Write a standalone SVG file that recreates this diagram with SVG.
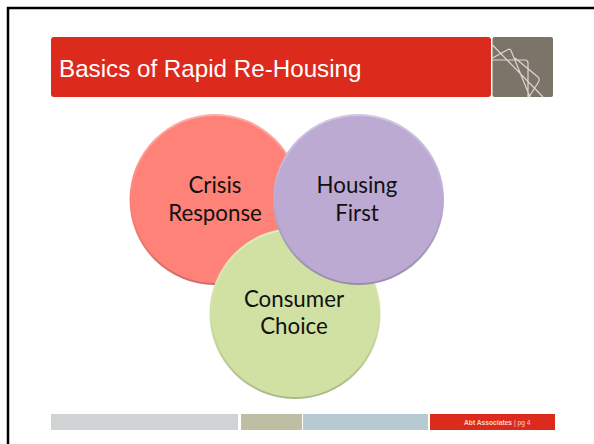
<svg xmlns="http://www.w3.org/2000/svg" width="594" height="444" viewBox="0 0 594 444">
<defs>
<linearGradient id="rim" x1="0" y1="0" x2="0" y2="1"><stop offset="0" stop-color="#fff" stop-opacity="0.35"/><stop offset="0.5" stop-color="#fff" stop-opacity="0"/><stop offset="0.5" stop-color="#000" stop-opacity="0"/><stop offset="1" stop-color="#000" stop-opacity="0.18"/></linearGradient>
</defs>
<style>
.c{font-family:Lato,"Open Sans",sans-serif;font-size:22.3px;fill:#111;text-anchor:middle}
.b{stroke:url(#rim);stroke-width:2;fill:none}
.l{fill:none;stroke:#dcd8d1;stroke-width:1.2}
</style>
<rect width="594" height="444" fill="#fff"/>
<path d="M8 444V8H594" fill="none" stroke="#000" stroke-width="2.5"/>
<g id="title"><rect x="51" y="37" width="440" height="60" rx="3" fill="#dc2a1c"/>
<text x="59" y="77" font-family="Liberation Sans,sans-serif" font-size="24.2" fill="#fff">Basics of Rapid Re-Housing</text></g>
<g id="logo"><rect x="492.500" y="37" width="60.500" height="60" rx="2" fill="#7b7468"/>
<path class="l" d="M492.500 45L543 97M492.500 58L508 49.500Q510 48.500 511 50.500L530 97M492.500 60L525 60Q528 60 528 63L528 97M515 58L538 77Q540 79 538.500 82L529 97"/></g>
<g id="crisis"><circle cx="215" cy="199.500" r="85.500" fill="#ff8279"/><circle cx="215" cy="199.500" r="84.500" class="b"/><text class="c" x="215" y="193">Crisis</text><text class="c" x="215" y="220.500">Response</text></g>
<g id="consumer"><circle cx="295" cy="313.500" r="85.500" fill="#d1e1a3"/><circle cx="295" cy="313.500" r="84.500" class="b"/><text class="c" x="294" y="306.500">Consumer</text><text class="c" x="294" y="334">Choice</text></g>
<g id="housing"><circle cx="358.500" cy="199.500" r="85.500" fill="#bcaad3"/><circle cx="358.500" cy="199.500" r="84.500" class="b"/><text class="c" x="357" y="193">Housing</text><text class="c" x="357" y="220.500">First</text></g>
<g id="footer"><rect x="51" y="414" width="187" height="16" fill="#d0d3d3"/><rect x="241" y="414" width="61" height="16" fill="#bdbfa2"/><rect x="303" y="414" width="125" height="16" fill="#b6cad2"/><rect x="430" y="414" width="125" height="16" fill="#dc2a1c"/>
<text x="464" y="425" font-family="Liberation Sans,sans-serif" font-size="6.700" fill="#f6d6d2"><tspan font-weight="bold">Abt Associates</tspan> | pg 4</text></g>
</svg>
